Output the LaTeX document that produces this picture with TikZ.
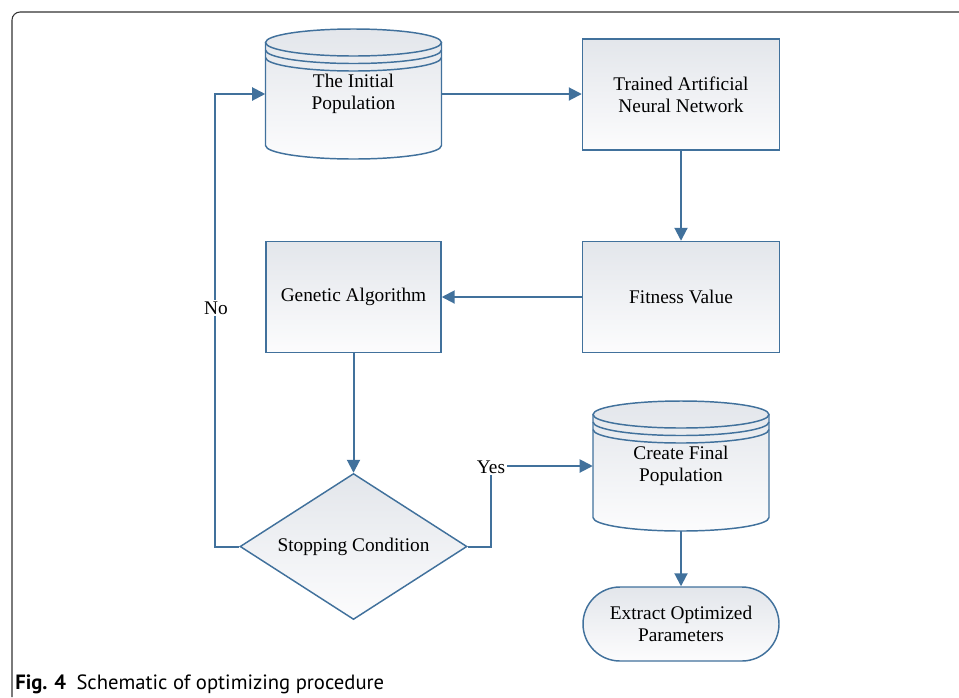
\documentclass[tikz,border=0pt]{standalone}
\usepackage{fontspec}
\setmainfont{Liberation Serif}
\newfontfamily\capfont{PT Sans}
\usetikzlibrary{arrows.meta,shapes.geometric}
\definecolor{lc}{HTML}{41719C}
\definecolor{shtop}{HTML}{E3E6EB}
\definecolor{shbot}{HTML}{FCFCFD}
\definecolor{framec}{HTML}{333333}
\newcommand\dbcyl[2]{%
  \begin{scope}[shift={(#1,#2)}]
    \path[top color=shtop,bottom color=shbot] (-88,-51.5) -- (-88,51.5)
      arc[start angle=180,end angle=360,x radius=66pt,y radius=10.125pt] -- (88,-51.5)
      arc[start angle=0,end angle=180,x radius=66pt,y radius=10.125pt] -- cycle;
    \draw[cyl] (-88,-51.5) -- (-88,51.5)
      arc[start angle=180,end angle=360,x radius=66pt,y radius=10.125pt] -- (88,-51.5);
    \draw[cyl] (0,-51.5) ellipse[x radius=66pt,y radius=10.125pt];
    \draw[cyl] (-88,-44) arc[start angle=180,end angle=360,x radius=66pt,y radius=10.125pt];
    \draw[cyl] (-88,-36.5) arc[start angle=180,end angle=360,x radius=66pt,y radius=10.125pt];
  \end{scope}}
\begin{document}
\begin{tikzpicture}[x=0.75pt,y=-0.75pt,
  cyl/.style={draw=lc, line width=1.1pt},
  shp/.style={draw=lc, line width=1.1pt, top color=shtop, bottom color=shbot},
  txt/.style={align=center, font=\fontsize{14.5}{16.5}\selectfont, inner sep=0pt},
  bigbox/.style={shp, txt, rectangle, minimum width=147.75pt, minimum height=83.25pt},
  smallbox/.style={shp, txt, rectangle, minimum width=131.25pt, minimum height=83.25pt},
  cylbox/.style={txt, rectangle, minimum width=132pt, minimum height=97.5pt},
  conn/.style={draw=lc, line width=1.5pt, -{Triangle[length=9.75pt,width=9.75pt]}},
  lbl/.style={fill=white, inner sep=1.5pt, font=\fontsize{14.5}{16.5}\selectfont}
]
\useasboundingbox (0,0) rectangle (959,697);
\draw[framec, line width=0.8pt] (12,697) -- (12,20) arc[start angle=180,end angle=90,radius=6pt] -- (959,12);

% cylinders
\dbcyl{353.5}{94}
\node[cylbox] (init) at (353.5,94) {The Initial\\Population};
\dbcyl{681}{466}
\node[cylbox] (cfp) at (681,466) {Create Final\\Population};

\node[bigbox] (tann) at (681,94.5) {Trained Artificial\\Neural Network};
\node[bigbox] (fit) at (681,297) {Fitness Value};
\node[smallbox] (ga) at (353.5,297) {Genetic Algorithm};
\node[shp, txt, diamond, aspect=1.55, minimum width=170.25pt, minimum height=109.5pt] (cond) at (353.5,546.5) {Stopping Condition};
\node[shp, txt, rectangle, rounded corners=27.75pt, minimum width=147pt, minimum height=55.5pt] (ext) at (681,624) {Extract Optimized\\Parameters};

\draw[conn] (init.east) -- (tann.west |- init.east);
\draw[conn] (tann.south) -- (fit.north);
\draw[conn] (fit.west) -- (ga.east);
\draw[conn] (ga.south) -- (cond.north);
\draw[conn] (cond.west) -- ++(-24.5,0) |- (init.west);
\draw[conn] (cond.east) -- ++(23.5,0) |- (cfp.west);
\draw[conn] (cfp.south) -- (ext.north);

\node[lbl] (no) at (216,308) {No};
\node[lbl] (yes) at (491,467) {Yes};

\node[anchor=west, inner sep=0pt, font=\capfont\fontsize{15.5}{18}\selectfont] (cap) at (15,684) {\textbf{Fig. 4}\hspace{0.5em}Schematic of optimizing procedure};
\end{tikzpicture}
\end{document}
